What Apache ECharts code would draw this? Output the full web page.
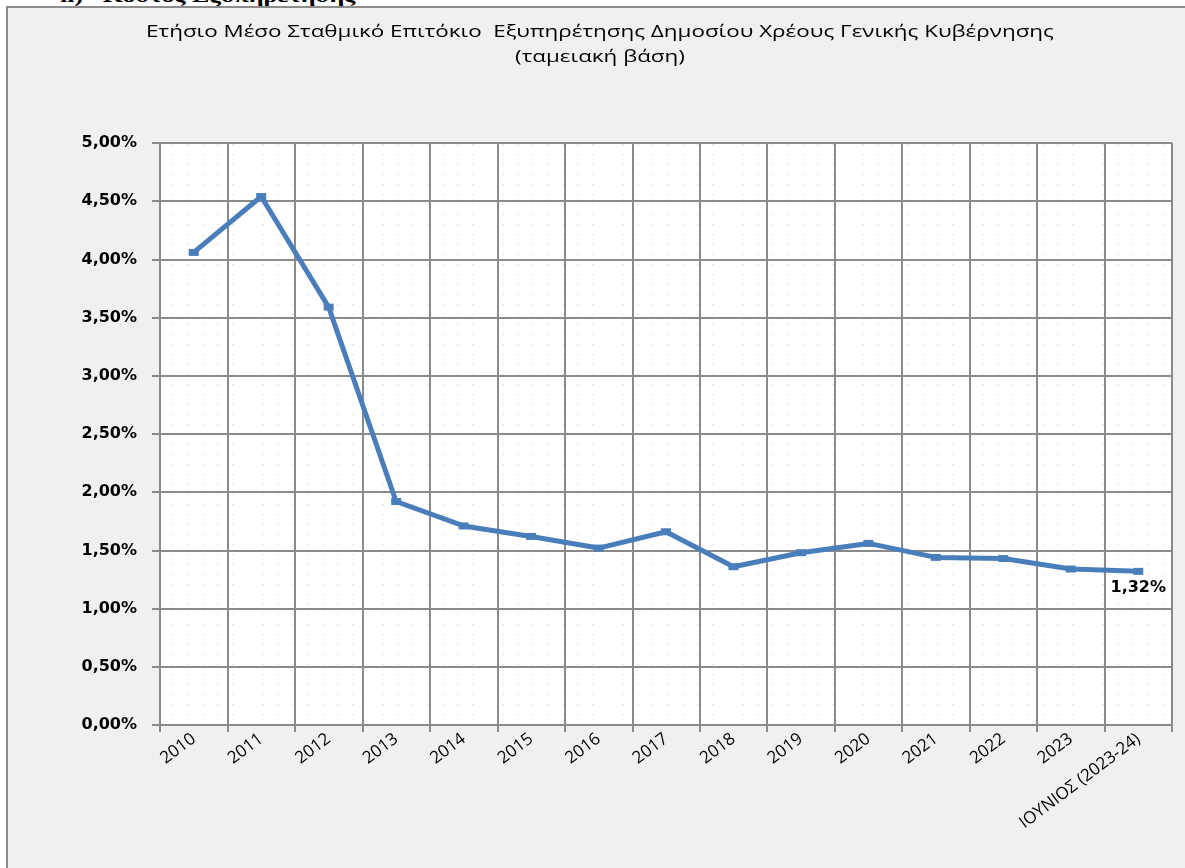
<!DOCTYPE html>
<html>
<head>
<meta charset="utf-8">
<script src="https://cdn.jsdelivr.net/npm/echarts@6/dist/echarts.min.js"></script>
<style>
  html, body { margin: 0; padding: 0; background: #ffffff; overflow: hidden; }
  .heading {
    position: absolute; left: 60px; top: -15px;
    font-family: "Liberation Serif", serif; font-weight: bold; font-size: 19px; color: #000;
    white-space: pre; transform: scaleX(1.37); transform-origin: 0 0;
  }
  .frame {
    position: absolute; left: 6px; top: 6px; width: 1200px; height: 900px;
    background: #f0f0f0; border-left: 2px solid #8c8c8c; border-top: 2px solid #8c8c8c;
  }
  #chart { position: absolute; left: 0; top: 0; width: 1185px; height: 868px; }
</style>
</head>
<body>
<div class="heading">ii)   Κόστος Εξυπηρέτησης</div>
<div class="frame"></div>
<div id="chart"></div>
<script>
// κατηγορίες και τιμές (%)
var categories = ["2010", "2011", "2012", "2013", "2014", "2015", "2016", "2017",
  "2018", "2019", "2020", "2021", "2022", "2023", "ΙΟΥΝΙΟΣ (2023-24)"];
var rates = [4.06, 4.54, 3.59, 1.92, 1.71, 1.62, 1.52, 1.66, 1.36, 1.48, 1.56, 1.44, 1.43, 1.34, 1.32];
var yTicks = { min: 0, max: 5, interval: 0.5 };
var titleLines = ["Ετήσιο Μέσο Σταθμικό Επιτόκιο  Εξυπηρέτησης Δημοσίου Χρέους Γενικής Κυβέρνησης",
  "(ταμειακή βάση)"];

function pct(v) {
  return v.toFixed(2).replace(".", ",") + "%";
}

// μοτίβο με κουκκίδες για το φόντο της περιοχής σχεδίασης
var dots = document.createElement("canvas");
dots.width = 15;
dots.height = 10;
var dctx = dots.getContext("2d");
dctx.fillStyle = "#ffffff";
dctx.fillRect(0, 0, 15, 10);
dctx.fillStyle = "#e6e6e6";
dctx.fillRect(7, 4, 2, 1);

var chart = echarts.init(document.getElementById("chart"));
var option = {
  backgroundColor: "transparent",
  animation: false,
  // ο τίτλος είναι τεντωμένος οριζόντια όπως στο πρωτότυπο
  graphic: [
    {
      type: "text",
      x: 600,
      y: 20,
      scaleX: 1.4,
      style: {
        text: titleLines.join("\n"),
        align: "center",
        fontFamily: "Open Sans",
        fontSize: 16,
        lineHeight: 25,
        fill: "#000"
      }
    }
  ],
  grid: {
    left: 160,
    right: 13,
    top: 143,
    bottom: 143,
    show: true,
    borderWidth: 0,
    backgroundColor: { image: dots, repeat: "repeat" }
  },
  xAxis: {
    type: "category",
    data: categories,
    boundaryGap: true,
    axisLine: { lineStyle: { color: "#8a8a8a", width: 2 } },
    axisTick: { show: true, length: 7, lineStyle: { color: "#8a8a8a", width: 2 } },
    splitLine: { show: true, lineStyle: { color: "#8a8a8a", width: 2 } },
    axisLabel: {
      rotate: 37,
      interval: 0,
      margin: 12,
      fontFamily: "Open Sans",
      fontSize: 17,
      color: "#000"
    }
  },
  yAxis: {
    type: "value",
    min: yTicks.min,
    max: yTicks.max,
    interval: yTicks.interval,
    axisLine: { show: true, lineStyle: { color: "#8a8a8a", width: 2 } },
    axisTick: { show: true, length: 8, lineStyle: { color: "#8a8a8a", width: 2 } },
    splitLine: { show: true, lineStyle: { color: "#8a8a8a", width: 2 } },
    axisLabel: {
      formatter: pct,
      margin: 23,
      fontFamily: "DejaVu Sans",
      fontWeight: "bold",
      fontSize: 16,
      color: "#000"
    }
  },
  series: [
    {
      type: "line",
      data: rates.map(function (v, i) {
        if (i === rates.length - 1) {
          return {
            value: v,
            label: {
              show: true,
              position: "bottom",
              distance: 5,
              formatter: function (p) { return pct(p.value); },
              fontFamily: "DejaVu Sans",
              fontWeight: "bold",
              fontSize: 16,
              color: "#000"
            }
          };
        }
        return v;
      }),
      symbol: "rect",
      symbolSize: [10, 7],
      showAllSymbol: true,
      lineStyle: { color: "#4a7ebb", width: 5 },
      itemStyle: { color: "#4a7ebb" }
    }
  ]
};
chart.setOption(option);
</script>
</body>
</html>
